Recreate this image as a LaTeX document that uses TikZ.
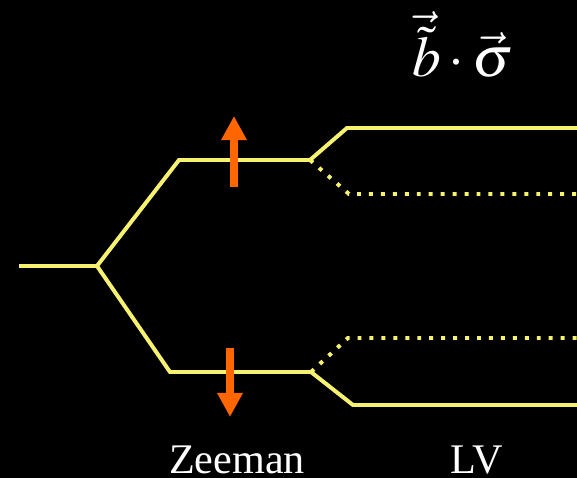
\documentclass[tikz,border=0pt]{standalone}
\usepackage{amsmath}
\usepackage{mathptmx}
\usepackage{fontspec}
\setmainfont{Liberation Serif}
\usetikzlibrary{arrows.meta}

\definecolor{levelyellow}{RGB}{246,242,112}
\definecolor{spinorange}{RGB}{255,102,0}

\tikzset{
  level/.style={draw=levelyellow, line width=3.4pt, line join=miter},
  splitdots/.style={level, dash pattern=on 3.4pt off 6.8pt},
  spin/.style={draw=spinorange, line width=6.8pt,
    -{Triangle[length=0.72cm,width=0.72cm]}},
  caption/.style={text=white, anchor=base, font=\fontsize{36}{40}\selectfont}
}

\begin{document}
\begin{tikzpicture}[x=0.03cm,y=-0.03cm]
% Background
\fill[black] (0,0) rectangle (577,478);
\useasboundingbox (0,0) rectangle (577,478);

% Level points
\coordinate (start) at (19,266);
\coordinate (split) at (97,266);
\coordinate (upbend) at (179,160);
\coordinate (upend) at (310,160);
\coordinate (downbend) at (170,372);
\coordinate (downend) at (311,372);

% Zeeman
\draw[level] (start) -- (split);
\draw[level] (split) -- (upbend) -- (upend);
\draw[level] (split) -- (downbend) -- (downend);

% LV
\draw[level] (upend) -- (347,128) -- (577,128);
\draw[splitdots] (upend) -- (349,194) -- (577,194);
\draw[splitdots] (downend) -- (348,338) -- (577,338);
\draw[level] (downend) -- (353,405) -- (577,405);

% Spins
\draw[spin] (234,187) -- (234,116);
\draw[spin] (230,348) -- (230,417);

% Labels
\node[caption] (zeeman) at (237,473) {Zeeman};
\node[caption] (lv) at (477,473) {LV};
\node[caption, font=\fontsize{49}{55}\selectfont] (coupling) at (463,77)
  {$\vec{\tilde{b}}\cdot\vec{\sigma}$};

\end{tikzpicture}
\end{document}
